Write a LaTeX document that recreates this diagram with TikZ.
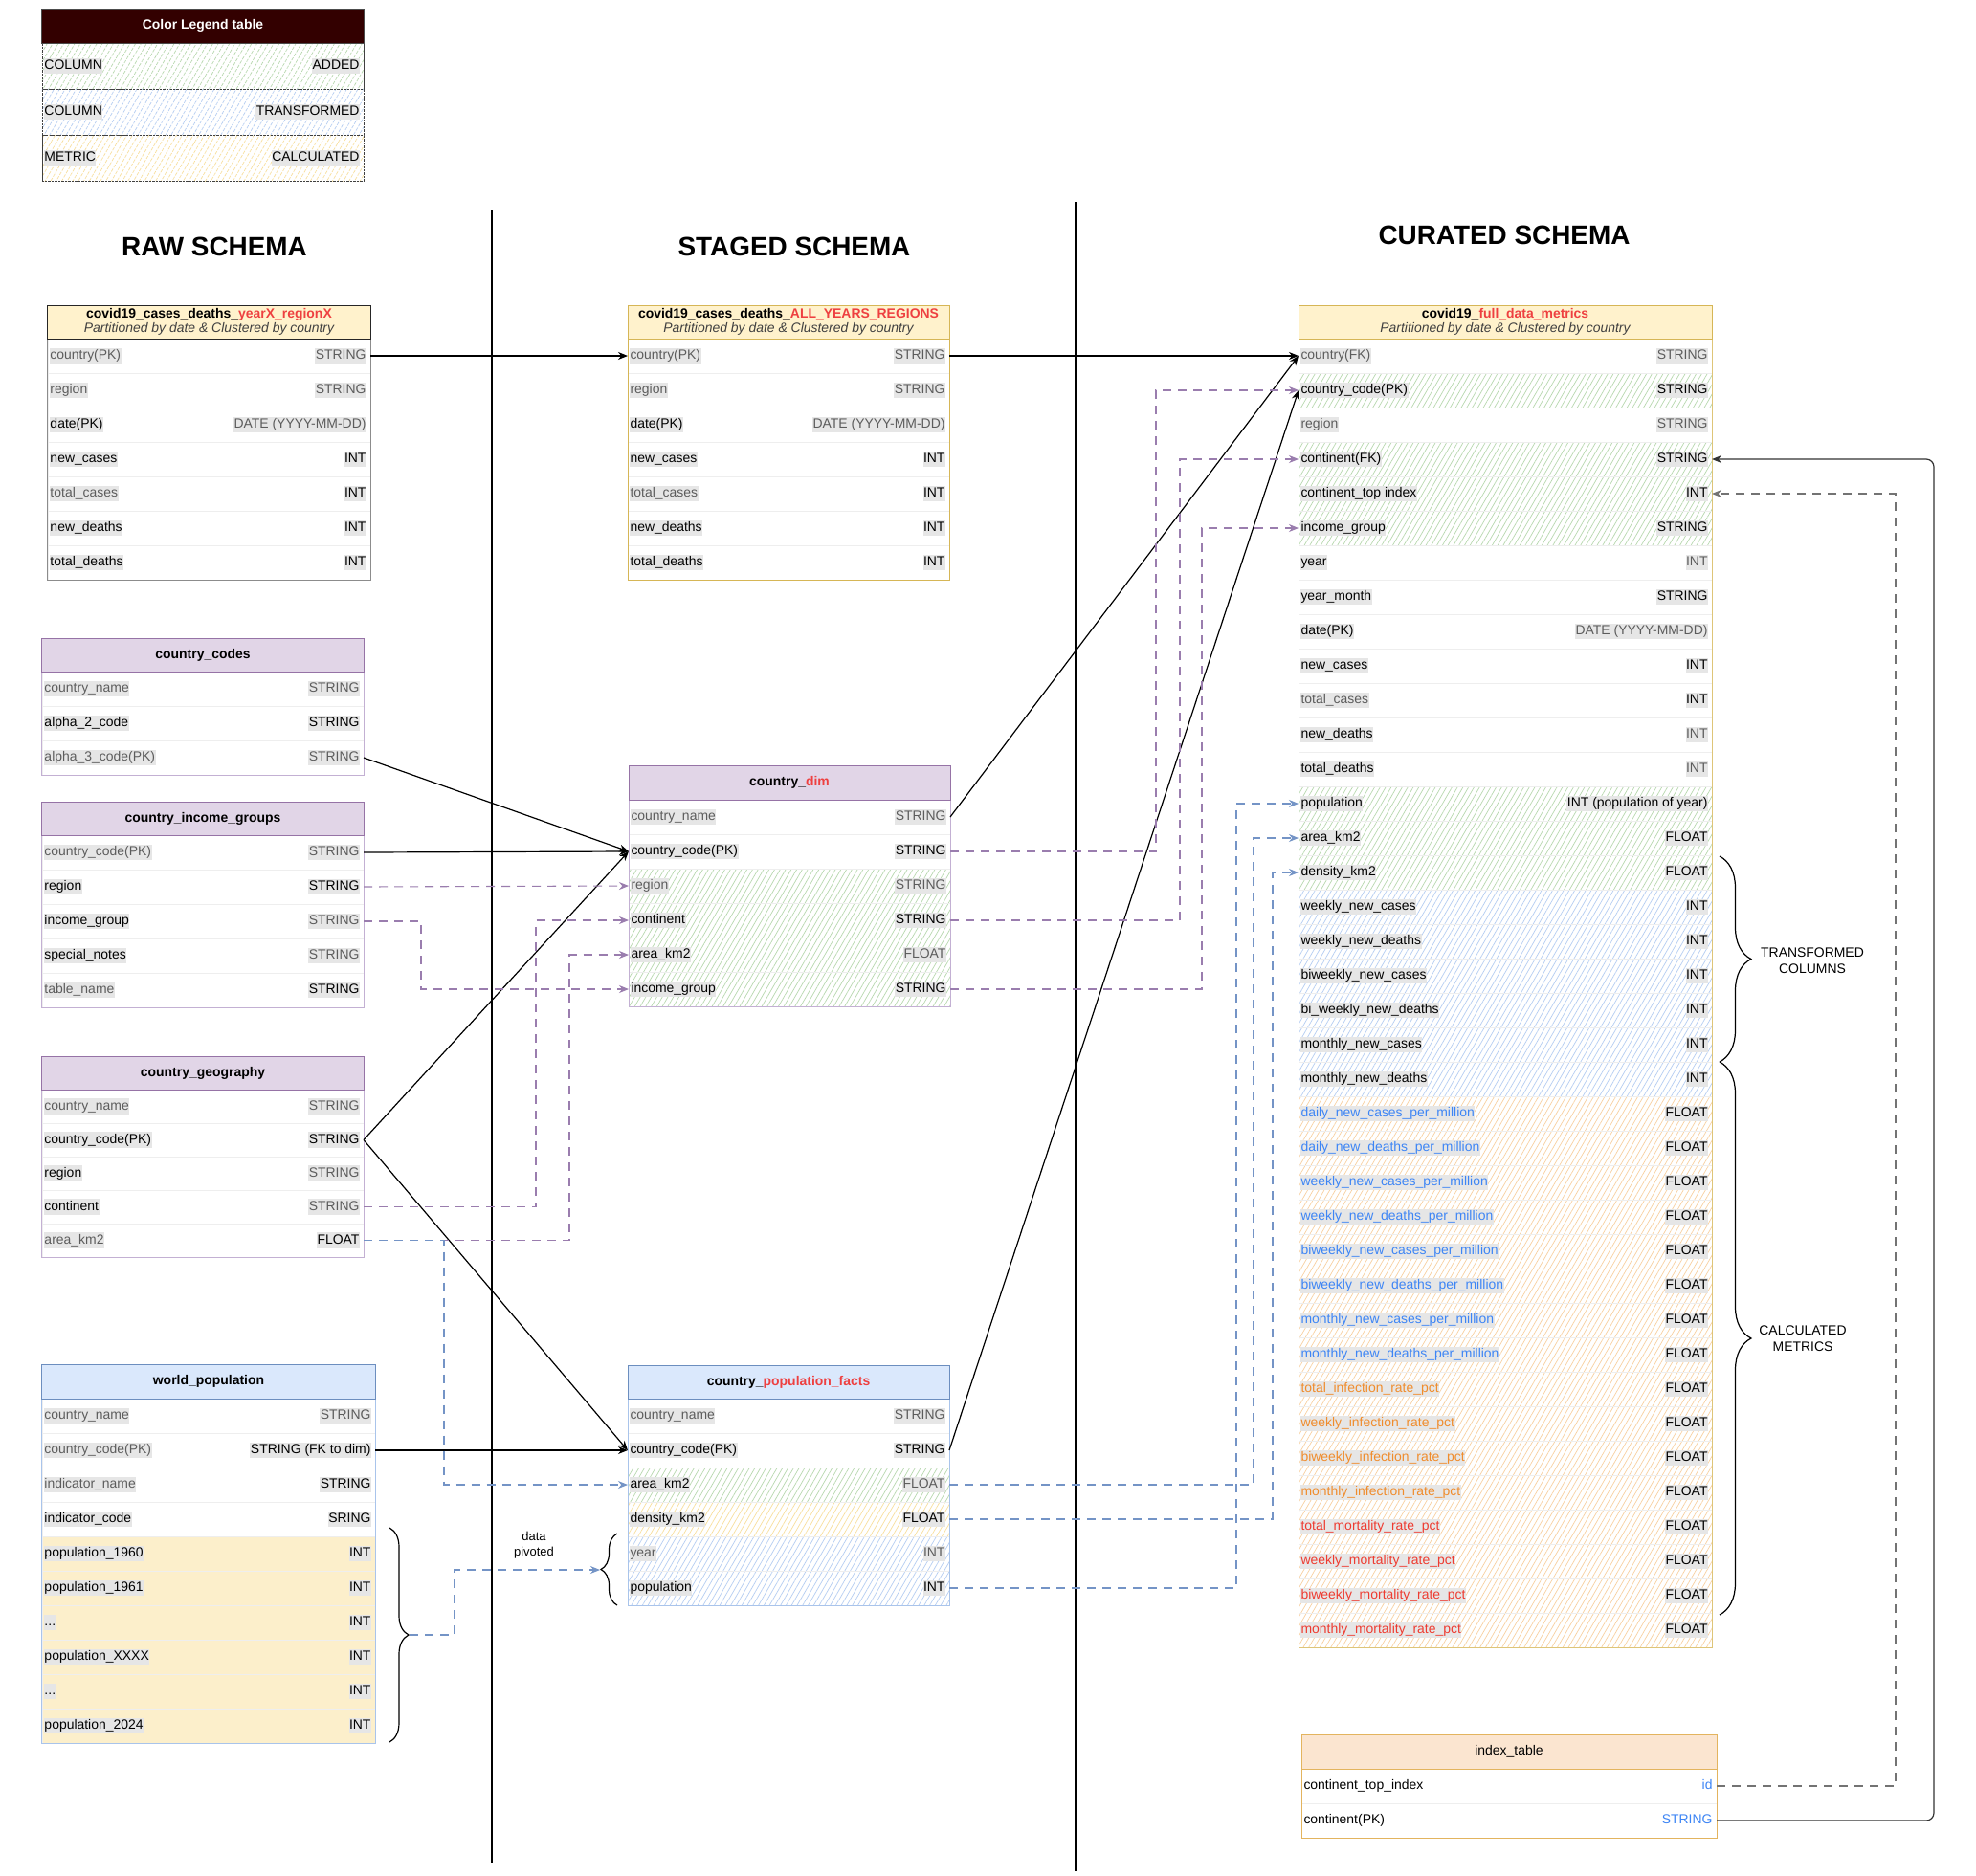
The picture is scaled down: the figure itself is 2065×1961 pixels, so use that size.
\documentclass[tikz,border=0pt]{standalone}
\usepackage{fontspec}
\setmainfont{Liberation Sans}
\usetikzlibrary{arrows.meta,patterns.meta,decorations.pathreplacing}

% text colours
\definecolor{tgrayc}{HTML}{5C5C5C}
\definecolor{tbluec}{HTML}{3D85F5}
\definecolor{torangec}{HTML}{F08C2C}
\definecolor{tredc}{HTML}{EE3B30}
\definecolor{titred}{HTML}{EE4040}
\definecolor{hlgray}{HTML}{E6E6E6}
\definecolor{rowline}{HTML}{EEEEEE}
% table colours
\definecolor{ylwfill}{HTML}{FFF2CC}
\definecolor{ylwline}{HTML}{D6B656}
\definecolor{prpfill}{HTML}{E1D5E7}
\definecolor{prpline}{HTML}{9673A6}
\definecolor{prplight}{HTML}{C3B0D3}
\definecolor{blufill}{HTML}{DAE8FC}
\definecolor{bluline}{HTML}{6C8EBF}
\definecolor{blulight}{HTML}{A9C4EB}
\definecolor{pchfill}{HTML}{FBE5D0}
\definecolor{pchline}{HTML}{E3B45E}
\definecolor{lgdhead}{HTML}{330000}
% hatch colours
\definecolor{hgreen}{HTML}{B7D8AE}
\definecolor{hblue}{HTML}{B5CDF2}
\definecolor{hyellow}{HTML}{F8DF9C}
\definecolor{horange}{HTML}{F8D0A0}
\definecolor{popyellow}{HTML}{FCEFCB}
% connector colours
\definecolor{prpdash}{HTML}{9A7DAE}
\definecolor{bludash}{HTML}{7494C6}

\def\rh{36}

\tikzset{
  lab/.style={font=\fontsize{14}{16}\selectfont, fill=hlgray, inner xsep=0.5bp,
    inner ysep=1.5bp, text height=10.5bp, text depth=3bp, outer sep=0},
  txg/.style={text=tgrayc}, txk/.style={text=black}, txb/.style={text=tbluec},
  txo/.style={text=torangec}, txr/.style={text=tredc},
  txkn/.style={text=black, fill=none}, txbn/.style={text=tbluec, fill=none},
  rowcell/.style={draw=rowline, line width=0.8bp, minimum height=\rh bp,
    inner sep=0, outer sep=0},
  fnone/.style={},
  hatch/.style={pattern={Lines[angle=60,distance=5bp,line width=0.7bp]}, pattern color=#1},
  fgrn/.style={hatch=hgreen}, fblu/.style={hatch=hblue},
  fylw/.style={hatch=hyellow}, forg/.style={hatch=horange},
  fsol/.style={fill=popyellow},
  lgg/.style={fgrn, draw=black!75, dash pattern=on 2bp off 1.5bp},
  lgb/.style={fblu, draw=black!75, dash pattern=on 2bp off 1.5bp},
  lgy/.style={fylw, draw=black!75, dash pattern=on 2bp off 1.5bp},
  hdr/.style={minimum height=35bp, inner sep=0, outer sep=0, line width=1bp,
    font=\fontsize{14}{16.5}\selectfont\bfseries, align=center},
  heading/.style={font=\fontsize{28}{32}\selectfont\bfseries},
  note/.style={font=\fontsize{14}{17}\selectfont, align=center},
  conn/.style={line width=1.2bp, -{Stealth[length=10bp,width=8bp]}},
  dconn/.style={line width=1.1bp, dash pattern=on 9bp off 7bp, -{Stealth[length=10bp,width=8bp]}},
  pconn/.style={dconn, draw=prpdash},
  bconn/.style={dconn, draw=bludash},
  gconn/.style={dconn, draw=black!55},
  bracket/.style={decorate, line width=1.2bp},
}

% rows of a table: prefix, left x, width, top y of the body, row list
\newcommand{\tablerows}[5]{%
  \foreach \lt/\rt/\ls/\rs/\fs [count=\i] in {#5} {
    \node[rowcell,\fs,minimum width=#3bp] (#1-\i) at ({#2+#3/2},{#4+(\i-0.5)*\rh}) {};
    \node[lab,\ls,anchor=west] (#1-\i-l) at ([xshift=2bp]#1-\i.west) {\lt};
    \node[lab,\rs,anchor=east] (#1-\i-r) at ([xshift=-4bp]#1-\i.east) {\rt};
  }}

\begin{document}
\begin{tikzpicture}[x=1bp,y=-1bp]
\fill[white] (0,0) rectangle (2065,1961);
\useasboundingbox (0,0) rectangle (2065,1961);

% ---------- colour legend ----------
\def\rh{48}
\tablerows{lg}{44}{336}{45}{
  {COLUMN}/{ADDED}/txk/txk/lgg,
  {COLUMN}/{TRANSFORMED}/txk/txk/lgb,
  {METRIC}/{CALCULATED}/txk/txk/lgy}
\draw[black!75, line width=0.8bp, dash pattern=on 2bp off 1.5bp] (lg-1.north west) rectangle (lg-3.south east);
\node[hdr, fill=lgdhead, draw=black!70, text=white, minimum width=336bp, minimum height=36bp] (lg-h) at (212,27) {Color Legend table};

% ---------- section headings and separators ----------
\node[heading] (hraw) at (224,258) {RAW SCHEMA};
\node[heading] (hstg) at (830,258) {STAGED SCHEMA};
\node[heading] (hcur) at (1572,246) {CURATED SCHEMA};
\draw[line width=1.3bp] (514,220) -- (514,1947);
\draw[line width=1.3bp] (1124,211) -- (1124,1956);

% ---------- raw schema ----------
\def\rh{36}
\tablerows{raw}{50}{337}{354}{
  {country(PK)}/{STRING}/txg/txg/fnone,
  {region}/{STRING}/txg/txg/fnone,
  {date(PK)}/{DATE (YYYY-MM-DD)}/txk/txg/fnone,
  {new\_cases}/{INT}/txk/txk/fnone,
  {total\_cases}/{INT}/txg/txk/fnone,
  {new\_deaths}/{INT}/txk/txk/fnone,
  {total\_deaths}/{INT}/txk/txk/fnone}
\draw[black!45, line width=1bp] (raw-1.north west) rectangle (raw-7.south east);
\node[hdr, fill=ylwfill, draw=black!85, minimum width=337bp] (raw-h) at (218.5,336.5)
  {covid19\_cases\_deaths\_\textcolor{titred}{yearX\_regionX}\\[-1bp]{\mdseries\itshape\color{black!75}Partitioned by date \& Clustered by country}};

\tablerows{cc}{44}{336}{702}{
  {country\_name}/{STRING}/txg/txg/fnone,
  {alpha\_2\_code}/{STRING}/txk/txk/fnone,
  {alpha\_3\_code(PK)}/{STRING}/txg/txg/fnone}
\draw[prplight, line width=1bp] (cc-1.north west) rectangle (cc-3.south east);
\node[hdr, fill=prpfill, draw=prpline, minimum width=336bp] (cc-h) at (212,684.5) {country\_codes};

\tablerows{ig}{44}{336}{873}{
  {country\_code(PK)}/{STRING}/txg/txg/fnone,
  {region}/{STRING}/txk/txk/fnone,
  {income\_group}/{STRING}/txk/txg/fnone,
  {special\_notes}/{STRING}/txk/txg/fnone,
  {table\_name}/{STRING}/txg/txk/fnone}
\draw[prplight, line width=1bp] (ig-1.north west) rectangle (ig-5.south east);
\node[hdr, fill=prpfill, draw=prpline, minimum width=336bp] (ig-h) at (212,855.5) {country\_income\_groups};

\def\rh{35}
\tablerows{geo}{44}{336}{1139}{
  {country\_name}/{STRING}/txg/txg/fnone,
  {country\_code(PK)}/{STRING}/txk/txk/fnone,
  {region}/{STRING}/txk/txg/fnone,
  {continent}/{STRING}/txk/txg/fnone,
  {area\_km2}/{FLOAT}/txg/txk/fnone}
\draw[prplight, line width=1bp] (geo-1.north west) rectangle (geo-5.south east);
\node[hdr, fill=prpfill, draw=prpline, minimum width=336bp] (geo-h) at (212,1121.5) {country\_geography};

\def\rh{36}
\tablerows{wp}{44}{348}{1462}{
  {country\_name}/{STRING}/txg/txg/fnone,
  {country\_code(PK)}/{STRING (FK to dim)}/txg/txk/fnone,
  {indicator\_name}/{STRING}/txg/txk/fnone,
  {indicator\_code}/{SRING}/txk/txk/fnone,
  {population\_1960}/{INT}/txk/txk/fsol,
  {population\_1961}/{INT}/txk/txk/fsol,
  {...}/{INT}/txk/txk/fsol,
  {population\_XXXX}/{INT}/txk/txk/fsol,
  {...}/{INT}/txk/txk/fsol,
  {population\_2024}/{INT}/txk/txk/fsol}
\draw[blulight, line width=1bp] (wp-1.north west) rectangle (wp-10.south east);
\node[hdr, fill=blufill, draw=bluline, minimum width=348bp, minimum height=36bp] (wp-h) at (218,1444) {world\_population};

% ---------- staged schema ----------
\tablerows{stg}{656}{336}{354}{
  {country(PK)}/{STRING}/txg/txg/fnone,
  {region}/{STRING}/txg/txg/fnone,
  {date(PK)}/{DATE (YYYY-MM-DD)}/txk/txg/fnone,
  {new\_cases}/{INT}/txk/txk/fnone,
  {total\_cases}/{INT}/txg/txk/fnone,
  {new\_deaths}/{INT}/txk/txk/fnone,
  {total\_deaths}/{INT}/txk/txk/fnone}
\draw[ylwline, line width=1bp] (stg-1.north west) rectangle (stg-7.south east);
\node[hdr, fill=ylwfill, draw=ylwline, minimum width=336bp] (stg-h) at (824,336.5)
  {covid19\_cases\_deaths\_\textcolor{titred}{ALL\_YEARS\_REGIONS}\\[-1bp]{\mdseries\itshape\color{black!75}Partitioned by date \& Clustered by country}};

\tablerows{dim}{657}{336}{836}{
  {country\_name}/{STRING}/txg/txg/fnone,
  {country\_code(PK)}/{STRING}/txk/txk/fnone,
  {region}/{STRING}/txg/txg/fgrn,
  {continent}/{STRING}/txk/txk/fgrn,
  {area\_km2}/{FLOAT}/txk/txg/fgrn,
  {income\_group}/{STRING}/txk/txk/fgrn}
\draw[prplight, line width=1bp] (dim-1.north west) rectangle (dim-6.south east);
\node[hdr, fill=prpfill, draw=prpline, minimum width=336bp, minimum height=36bp] (dim-h) at (825,818) {country\_\textcolor{titred}{dim}};

\tablerows{pf}{656}{336}{1462}{
  {country\_name}/{STRING}/txg/txg/fnone,
  {country\_code(PK)}/{STRING}/txk/txk/fnone,
  {area\_km2}/{FLOAT}/txk/txg/fgrn,
  {density\_km2}/{FLOAT}/txk/txk/fylw,
  {year}/{INT}/txg/txg/fblu,
  {population}/{INT}/txk/txk/fblu}
\draw[blulight, line width=1bp] (pf-1.north west) rectangle (pf-6.south east);
\node[hdr, fill=blufill, draw=bluline, minimum width=336bp] (pf-h) at (824,1444.5) {country\_\textcolor{titred}{population\_facts}};

% ---------- curated schema ----------
\tablerows{cur}{1357}{432}{354}{
  {country(FK)}/{STRING}/txg/txg/fnone,
  {country\_code(PK)}/{STRING}/txk/txk/fgrn,
  {region}/{STRING}/txg/txg/fnone,
  {continent(FK)}/{STRING}/txk/txk/fgrn,
  {continent\_top index}/{INT}/txk/txk/fgrn,
  {income\_group}/{STRING}/txk/txk/fgrn,
  {year}/{INT}/txk/txg/fnone,
  {year\_month}/{STRING}/txk/txk/fnone,
  {date(PK)}/{DATE (YYYY-MM-DD)}/txk/txg/fnone,
  {new\_cases}/{INT}/txk/txk/fnone,
  {total\_cases}/{INT}/txg/txk/fnone,
  {new\_deaths}/{INT}/txk/txg/fnone,
  {total\_deaths}/{INT}/txk/txg/fnone,
  {population}/{INT (population of year)}/txk/txk/fgrn,
  {area\_km2}/{FLOAT}/txk/txk/fgrn,
  {density\_km2}/{FLOAT}/txk/txk/fgrn,
  {weekly\_new\_cases}/{INT}/txk/txk/fblu,
  {weekly\_new\_deaths}/{INT}/txk/txk/fblu,
  {biweekly\_new\_cases}/{INT}/txk/txk/fblu,
  {bi\_weekly\_new\_deaths}/{INT}/txk/txk/fblu,
  {monthly\_new\_cases}/{INT}/txk/txk/fblu,
  {monthly\_new\_deaths}/{INT}/txk/txk/fblu,
  {daily\_new\_cases\_per\_million}/{FLOAT}/txb/txk/forg,
  {daily\_new\_deaths\_per\_million}/{FLOAT}/txb/txk/forg,
  {weekly\_new\_cases\_per\_million}/{FLOAT}/txb/txk/forg,
  {weekly\_new\_deaths\_per\_million}/{FLOAT}/txb/txk/forg,
  {biweekly\_new\_cases\_per\_million}/{FLOAT}/txb/txk/forg,
  {biweekly\_new\_deaths\_per\_million}/{FLOAT}/txb/txk/forg,
  {monthly\_new\_cases\_per\_million}/{FLOAT}/txb/txk/forg,
  {monthly\_new\_deaths\_per\_million}/{FLOAT}/txb/txk/forg,
  {total\_infection\_rate\_pct}/{FLOAT}/txo/txk/forg,
  {weekly\_infection\_rate\_pct}/{FLOAT}/txo/txk/forg,
  {biweekly\_infection\_rate\_pct}/{FLOAT}/txo/txk/forg,
  {monthly\_infection\_rate\_pct}/{FLOAT}/txo/txk/forg,
  {total\_mortality\_rate\_pct}/{FLOAT}/txr/txk/forg,
  {weekly\_mortality\_rate\_pct}/{FLOAT}/txr/txk/forg,
  {biweekly\_mortality\_rate\_pct}/{FLOAT}/txr/txk/forg,
  {monthly\_mortality\_rate\_pct}/{FLOAT}/txr/txk/forg}
\draw[ylwline!80, line width=1bp] (cur-1.north west) rectangle (cur-38.south east);
\node[hdr, fill=ylwfill, draw=ylwline, minimum width=432bp] (cur-h) at (1573,336.5)
  {covid19\_\textcolor{titred}{full\_data\_metrics}\\[-1bp]{\mdseries\itshape\color{black!75}Partitioned by date \& Clustered by country}};

\tablerows{idx}{1360}{434}{1849}{
  {continent\_top\_index}/{id}/txkn/txbn/fnone,
  {continent(PK)}/{STRING}/txkn/txbn/fnone}
\draw[pchline, line width=1bp] (idx-1.north west) rectangle (idx-2.south east);
\node[hdr, fill=pchfill, draw=pchline, minimum width=434bp, minimum height=36bp, font=\fontsize{14}{16}\selectfont] (idx-h) at (1577,1831) {index\_table};

% ---------- brackets and notes ----------
\draw[bracket, decoration={brace, amplitude=20bp}] (407,1597) -- (407,1821);
\coordinate (wpb) at (428,1709);
\draw[bracket, decoration={brace, amplitude=17bp}] (645,1678) -- (645,1603);
\coordinate (pfb) at (627,1641);
\node[note, font=\fontsize{13}{16}\selectfont] (pivot) at (558,1615) {data\\pivoted};

\draw[bracket, decoration={brace, amplitude=33bp}] (1797,895) -- (1797,1110);
\draw[bracket, decoration={brace, amplitude=33bp}] (1797,1110) -- (1797,1688);
\node[note] (ntrans) at (1894,1004) {TRANSFORMED\\COLUMNS};
\node[note] (ncalc) at (1884,1399) {CALCULATED\\METRICS};

% ---------- connectors: key columns ----------
\draw[conn] (raw-1.east) -- (stg-1.west);
\draw[conn] (stg-1.east) -- (cur-1.west);
\draw[conn] (dim-1.east) -- (cur-1.west);
\draw[conn] (pf-2.east) -- (cur-2.west);
\draw[conn] (cc-3.east) -- (dim-2.west);
\draw[conn] (ig-1.east) -- (dim-2.west);
\draw[conn] (geo-2.east) -- (dim-2.west);
\draw[conn] (geo-2.east) -- (pf-2.west);
\draw[conn] (wp-2.east) -- (pf-2.west);

% ---------- connectors: attributes into the dimension ----------
\draw[pconn] (ig-2.east) -- (dim-3.west);
\draw[pconn] (ig-3.east) -- ++(60,0) |- (dim-6.west);
\draw[pconn] (geo-4.east) -- ++(180,0) |- (dim-4.west);
\draw[pconn] (geo-5.east) -- ++(215,0) |- (dim-5.west);
\draw[bconn] (geo-5.east) -- ++(84,0) |- (pf-3.west);
\draw[bconn] (wpb) -- ++(47,0) |- (pfb);

% ---------- connectors: into the curated table ----------
\draw[pconn] (dim-2.east) -- ++(215,0) |- (cur-2.west);
\draw[pconn] (dim-4.east) -- ++(240,0) |- (cur-4.west);
\draw[pconn] (dim-6.east) -- ++(263,0) |- (cur-6.west);
\draw[bconn] (pf-6.east) -- ++(300,0) |- (cur-14.west);
\draw[bconn] (pf-3.east) -- ++(318,0) |- (cur-15.west);
\draw[bconn] (pf-4.east) -- ++(338,0) |- (cur-16.west);
\draw[gconn] (idx-1.east) -- ++(187,0) |- (cur-5.east);
\draw[conn, draw=black!80, rounded corners=8bp] (idx-2.east) -- ++(227,0) |- (cur-4.east);
\end{tikzpicture}
\end{document}
